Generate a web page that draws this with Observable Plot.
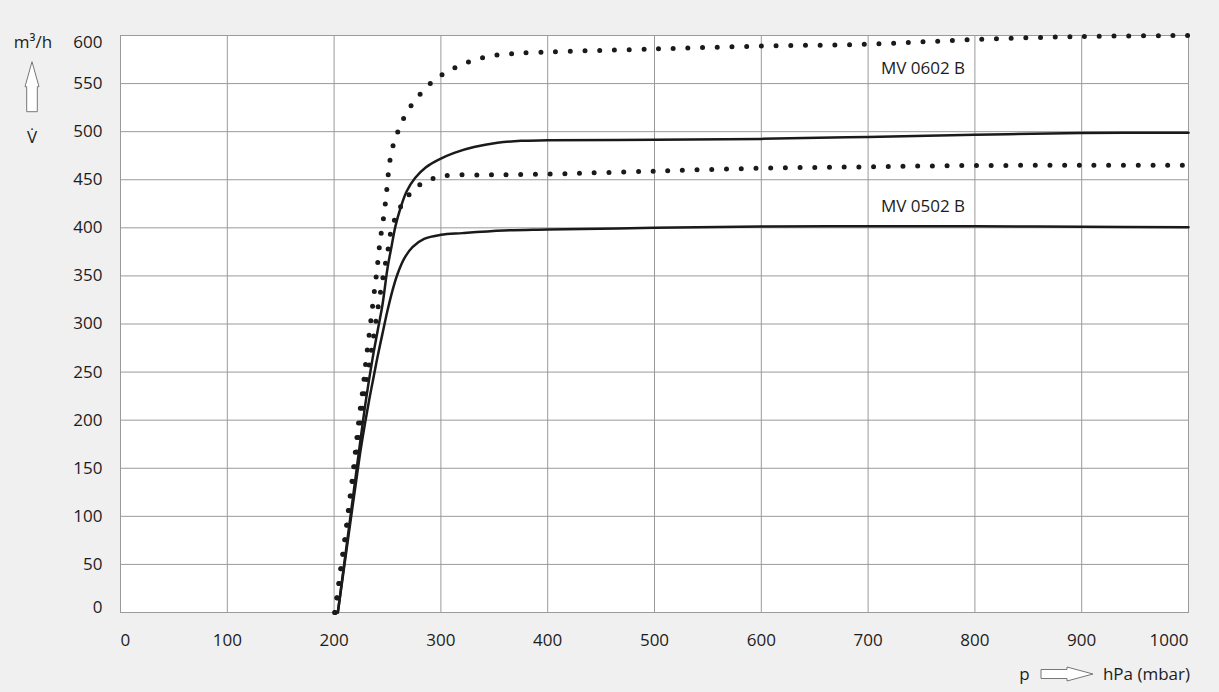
<!DOCTYPE html>
<html><head><meta charset="utf-8">
<script src="https://cdn.jsdelivr.net/npm/d3@7"></script>
<script src="https://cdn.jsdelivr.net/npm/@observablehq/plot@0.6"></script>
<style>
html,body{margin:0;padding:0;background:#f0f0f0;}
#chart svg{display:block;}
</style></head><body><div id="chart"></div>
<script>
const xTicks = [0,100,200,300,400,500,600,700,800,900,1000];
const yTicks = [0,50,100,150,200,250,300,350,400,450,500,550,600];

// MV 0602 B – solid curve
const p0602Solid = [203.5,216.5,229.7,236,240.6,245.3,250,254,257.5,262,268,276,286,298,312.5,331,353,375,400,500,600,700,800,900,1000];
const v0602Solid = [0,110,220,264,292,320,358,382,402,420,438,452,463,471,478,484,488.4,490.5,491,491.5,492.5,494.5,496.7,498.5,499];
// MV 0602 B – dotted curve
const p0602Dot = [200.5,202.8,206.5,210.3,213.7,217.2,220.3,223.4,227,230,233.4,236.6,240,243,245,247,250,251.3,253.4,257,262,268.4,276.3,285.3,295.6,307,320,333,347,360,374,402,500,600,700,800,900,1000];
const v0602Dot = [0,17,48,78,109.5,140.7,171,202,233,263,294,324,355,386,401,416,447,462,477,492,506,521,533,545,555,563,570,575,579,580.5,581.6,583,586,589,591,595.8,599,600];
// MV 0502 B – solid curve
const p0502Solid = [203.5,216,224,229,233,236.5,240.6,245.3,250,254.7,259.4,265.6,273.4,284.3,300,320,359,400,500,600,700,800,900,1000];
const v0502Solid = [0,100,163,197,222,242,265.5,290,314,335,352,368,380,388.5,392.7,394.5,397.2,398.2,400,401.4,401.7,401.7,401,400.6];
// MV 0502 B – dotted curve
const p0502Dot = [201,215,228.7,231,235.3,239.4,243.7,248.4,251,253.1,257.2,263.4,271.6,282,295,309,336,364,405,500,600,700,800,900,1000];
const v0502Dot = [0,115,230,244.7,274.8,304.7,334.8,365,380.6,395.5,410,424,436,446,452,454.7,455,455.2,456,459,462,463.5,464.8,465,465];

const seriesLabels = ["MV 0602 B","MV 0502 B"];
const labelP = [712,712];
const labelV = [566,422.5];

const toRows = (ps, vs) => ps.map((p,i) => ({p, v: vs[i]}));
const dark = "#1a1a1a";
const gridColor = "#9a9a9a";
const fmt = d => String(d);

const solidStyle = {x:"p", y:"v", curve:"catmull-rom", stroke:dark, strokeWidth:2.5};
const dotStyle = {x:"p", y:"v", curve:"catmull-rom", stroke:dark, strokeWidth:5, strokeDasharray:"0 14.7", strokeLinecap:"round"};
const axisOpts = {tickSize: 0, label: null, fontSize: 17, tickFormat: fmt};

const chart = Plot.plot({
  width: 1219,
  height: 692,
  marginLeft: 120,
  marginRight: 31,
  marginTop: 35,
  marginBottom: 80,
  style: {fontFamily: "'Open Sans', sans-serif", fontSize: "17px", color: "#1c1c1c", background: "transparent"},
  x: {domain: [0,1000]},
  y: {domain: [0,600]},
  marks: [
    Plot.frame({fill: "white", stroke: "none"}),
    Plot.gridX(xTicks, {stroke: gridColor, strokeOpacity: 1, strokeWidth: 1}),
    Plot.gridY(yTicks, {stroke: gridColor, strokeOpacity: 1, strokeWidth: 1}),
    Plot.frame({stroke: gridColor, strokeWidth: 1}),
    Plot.line(toRows(p0602Dot, v0602Dot), dotStyle),
    Plot.line(toRows(p0502Dot, v0502Dot), dotStyle),
    Plot.line(toRows(p0602Solid, v0602Solid), solidStyle),
    Plot.line(toRows(p0502Solid, v0502Solid), solidStyle),
    Plot.text(seriesLabels, {x: (d,i) => labelP[i], y: (d,i) => labelV[i], text: d => d, textAnchor: "start", fontSize: 17, fill: "#1c1c1c"}),
    Plot.axisX(xTicks.slice(0,1), {...axisOpts, tickPadding: 21, textAnchor: "start"}),
    Plot.axisX(xTicks.slice(1,-1), {...axisOpts, tickPadding: 21}),
    Plot.axisX(xTicks.slice(-1), {...axisOpts, tickPadding: 21, textAnchor: "end"}),
    Plot.axisY(yTicks.slice(0,1), {...axisOpts, tickPadding: 18, lineAnchor: "bottom"}),
    Plot.axisY(yTicks.slice(1,-1), {...axisOpts, tickPadding: 18}),
    Plot.axisY(yTicks.slice(-1), {...axisOpts, tickPadding: 18, lineAnchor: "top"})
  ]
});

document.getElementById("chart").appendChild(chart);

// Axis quantity labels with outlined arrows
const svg = d3.select(chart);
const deco = svg.append("g").attr("font-family", "'Open Sans', sans-serif").attr("font-size", 17).attr("fill", "#1c1c1c");
deco.append("text").attr("x", 33).attr("y", 48).attr("text-anchor", "middle").text("m³/h");
deco.append("path")
  .attr("d", "M32,61.7 L39,86.7 L37.3,86.7 L37.3,111.7 L26.7,111.7 L26.7,86.7 L25,86.7 Z")
  .attr("fill", "white").attr("stroke", "#777").attr("stroke-width", 1);
deco.append("text").attr("x", 32).attr("y", 143.3).attr("text-anchor", "middle").text("V\u0307");
deco.append("text").attr("x", 1024.5).attr("y", 680).attr("text-anchor", "middle").text("p");
deco.append("path")
  .attr("d", "M1041,669.5 L1067,669.5 L1067,667 L1093,674 L1067,681 L1067,678.5 L1041,678.5 Z")
  .attr("fill", "white").attr("stroke", "#777").attr("stroke-width", 1);
deco.append("text").attr("x", 1190).attr("y", 680).attr("text-anchor", "end").text("hPa (mbar)");
</script>
</body></html>
